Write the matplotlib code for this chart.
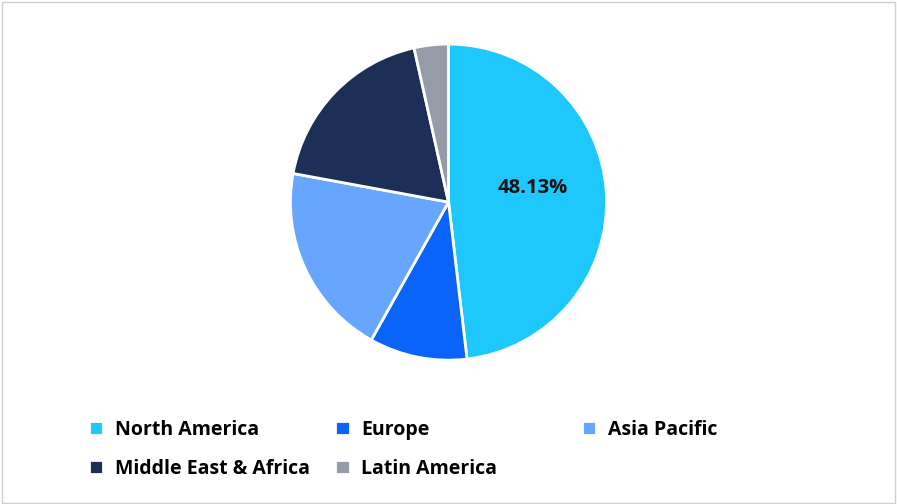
import matplotlib
matplotlib.use("Agg")
import matplotlib.pyplot as plt
from matplotlib.patches import Rectangle

labels = ["North America", "Europe", "Asia Pacific", "Middle East & Africa", "Latin America"]
values = [48.13, 10.0, 19.77, 18.6, 3.5]
colors = ["#1FC8FC", "#0A64FA", "#66A6FF", "#1C3057", "#959CA8"]

fig = plt.figure(figsize=(8.97, 5.04), dpi=100)
fig.patches.append(Rectangle((0.002, 0.002), 0.996, 0.994, transform=fig.transFigure,
                             fill=False, edgecolor="#D0D0D0", linewidth=1))
ax = fig.add_axes([0.0, 0.207, 1.0, 0.784])
wedges, _ = ax.pie(values, colors=colors, startangle=90, counterclock=False,
                   wedgeprops=dict(edgecolor="white", linewidth=2))
ax.set_aspect("equal")
ax.text(0.53, 0.09, f"{values[0]:.2f}%", ha="center", va="center",
        fontsize=14.5, fontweight="bold", color="#111111", family="Open Sans")

columns = [[0, 3], [1, 4], [2]]
xs = [0.09, 0.365, 0.64]
for col, x in zip(columns, xs):
    fig.legend([wedges[i] for i in col], [labels[i] for i in col],
               loc="upper left", bbox_to_anchor=(x, 0.182), ncol=1,
               frameon=False, handlelength=0.75, handleheight=0.75, handletextpad=0.6,
               labelspacing=0.95, borderaxespad=0,
               prop=dict(family="Open Sans", weight="bold", size=14))
fig.savefig("out.png", dpi=100)
